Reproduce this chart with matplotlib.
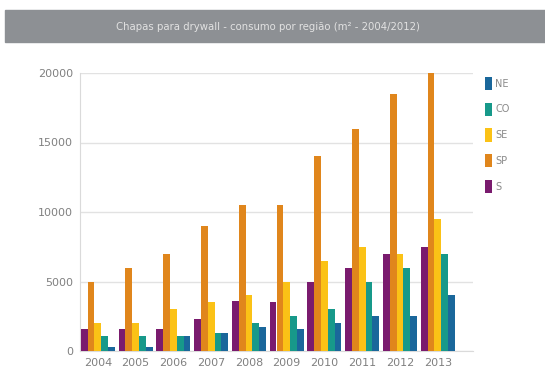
import matplotlib
matplotlib.use("Agg")
import matplotlib.pyplot as plt
import matplotlib.patches as mpatches
import numpy as np

# dados (m2)
anos = ["2004", "2005", "2006", "2007", "2008", "2009", "2010", "2011", "2012", "2013"]
s_vals = [1600, 1600, 1600, 2300, 3600, 3500, 5000, 6000, 7000, 7500]
sp_vals = [5000, 6000, 7000, 9000, 10500, 10500, 14000, 16000, 18500, 20000]
se_vals = [2000, 2000, 3000, 3500, 4000, 5000, 6500, 7500, 7000, 9500]
co_vals = [1100, 1100, 1100, 1300, 2000, 2500, 3000, 5000, 6000, 7000]
ne_vals = [300, 300, 1100, 1300, 1700, 1600, 2000, 2500, 2500, 4000]

series = [("S", s_vals, "#7a1b6e"),
          ("SP", sp_vals, "#e0861c"),
          ("SE", se_vals, "#fbc216"),
          ("CO", co_vals, "#17998a"),
          ("NE", ne_vals, "#1a679b")]

fig = plt.figure(figsize=(5.45, 3.83), dpi=100)
fig.patch.set_facecolor("white")

# barra cinza do titulo
fig.patches.append(mpatches.Rectangle((5 / 545, 1 - 42 / 383), 540 / 545, 32 / 383,
                                      transform=fig.transFigure, color="#8d9094", zorder=0))
fig.text(268 / 545, 1 - 27 / 383, "Chapas para drywall - consumo por região (m² - 2004/2012)",
         ha="center", va="center", color="#e2e2e2", fontsize=7.3)

ax = fig.add_axes([80 / 545, 1 - 351 / 383, 393 / 545, 278 / 383])
x = np.arange(len(anos))
w = 0.18
for i, (nome, vals, cor) in enumerate(series):
    ax.bar(x + (i - 2) * w, vals, w, color=cor, label=nome, zorder=3)

ax.set_xlim(-0.47, 9.93)
ax.set_ylim(0, 20000)
ax.set_yticks([0, 5000, 10000, 15000, 20000])
ax.set_xticks(x)
ax.set_xticklabels(anos)
ax.tick_params(axis="both", length=0, colors="#808080", labelsize=8)
ax.tick_params(axis="y", pad=5)
ax.tick_params(axis="x", pad=5)
ax.grid(axis="y", color="#e2e2e2", linewidth=1, zorder=0)
for lado in ["top", "right"]:
    ax.spines[lado].set_visible(False)
ax.spines["left"].set_color("#dadada")
ax.spines["bottom"].set_color("#dadada")

handles, labels = ax.get_legend_handles_labels()
ax.legend(handles[::-1], labels[::-1], loc="upper left", bbox_to_anchor=(1.02, 1.0),
          frameon=False, handlelength=0.7, handleheight=1.7, handletextpad=0.4,
          labelspacing=1.3, fontsize=7, labelcolor="#8a8a8a", borderaxespad=0)

fig.savefig("out.png", dpi=100)
